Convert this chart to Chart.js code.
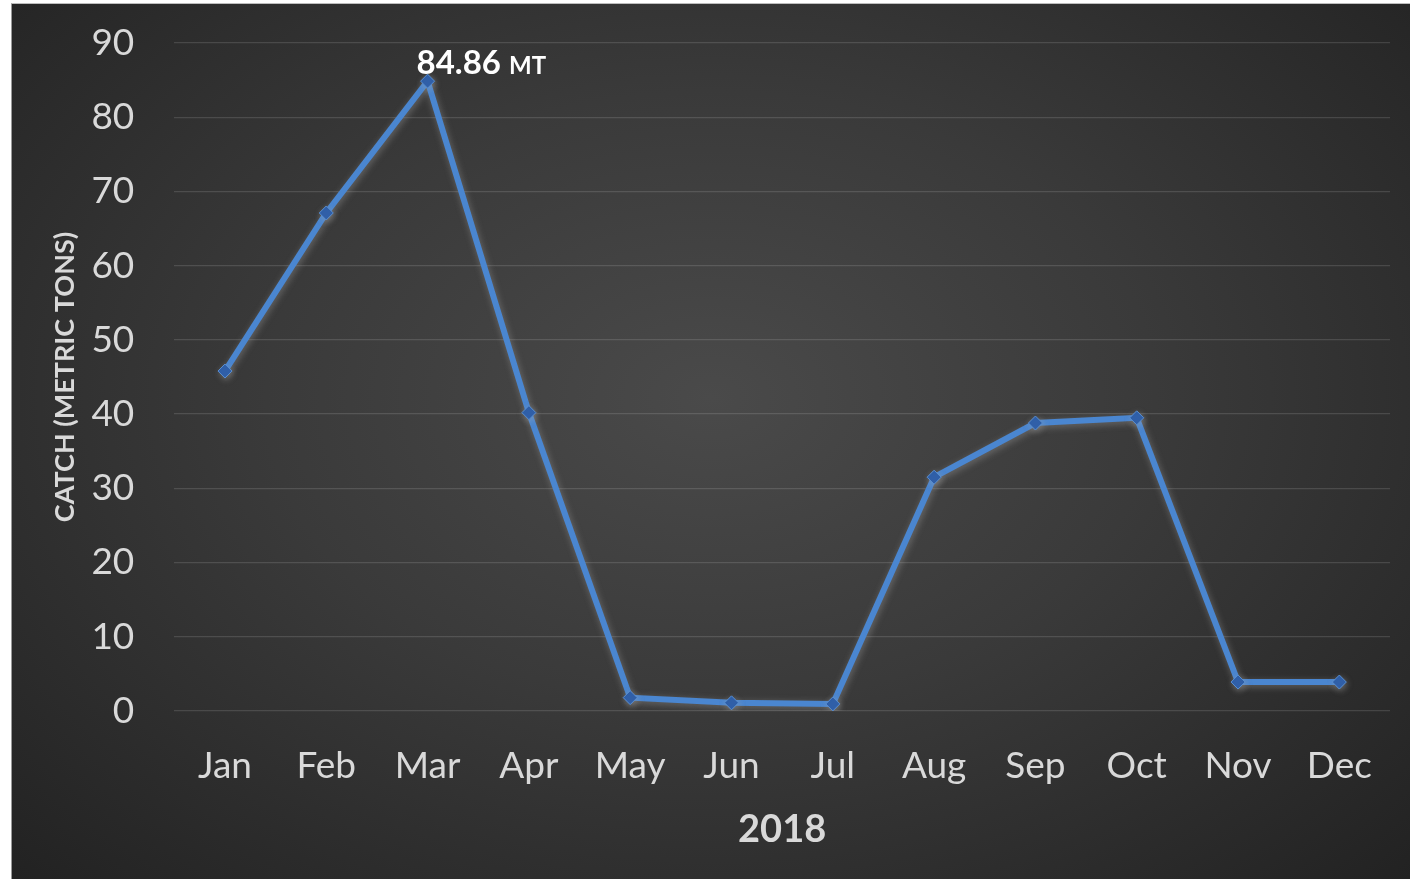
<!DOCTYPE html>
<html>
<head>
<meta charset="utf-8">
<script src="https://cdn.jsdelivr.net/npm/chart.js@4.4.1/dist/chart.umd.min.js"></script>
<style>
  html, body { margin: 0; padding: 0; background: #fff; }
  #box {
    position: absolute; left: 11px; top: 3px; width: 1399px; height: 876px;
    background: radial-gradient(ellipse at 50% 45%, #4a4a4a 0%, #3a3a3a 45%, #222222 100%);
    border-left: 1px solid #9a9a9a; border-top: 1px solid #bdbdbd;
    box-sizing: border-box;
  }
  canvas { display: block; }
</style>
</head>
<body>
<div id="box"><canvas id="catchChart" width="1398" height="875"></canvas></div>
<script>
const months = ['Jan', 'Feb', 'Mar', 'Apr', 'May', 'Jun', 'Jul', 'Aug', 'Sep', 'Oct', 'Nov', 'Dec'];
const catchTons = [45.8, 67.1, 84.86, 40.2, 1.8, 1.1, 0.95, 31.5, 38.8, 39.5, 3.9, 3.9];
const yTicks = [0, 10, 20, 30, 40, 50, 60, 70, 80, 90];
const peakLabel = '84.86';
const peakUnit = 'MT';

// soft light halo behind the line like the office chart
const glow = {
  id: 'glow',
  beforeDatasetDraw(chart) {
    const c = chart.ctx;
    c.save();
    c.shadowColor = 'rgba(170,170,170,0.45)';
    c.shadowBlur = 7;
    c.shadowOffsetX = 1;
    c.shadowOffsetY = 2;
  },
  afterDatasetDraw(chart) {
    chart.ctx.restore();
  }
};

// "84.86 MT" label over the March peak
const peakText = {
  id: 'peakText',
  afterDatasetsDraw(chart) {
    const c = chart.ctx;
    const i = catchTons.indexOf(84.86);
    const pt = chart.getDatasetMeta(0).data[i];
    c.save();
    c.fillStyle = '#ffffff';
    c.textBaseline = 'alphabetic';
    c.textAlign = 'left';
    c.font = 'bold 33px Lato';
    const w1 = c.measureText(peakLabel + ' ').width;
    const x = pt.x - 11;
    const y = pt.y - 7;
    c.fillText(peakLabel, x, y);
    c.font = 'bold 24px Lato';
    c.fillText(peakUnit, x + w1, y);
    c.restore();
  }
};

new Chart(document.getElementById('catchChart'), {
  type: 'line',
  data: {
    labels: months,
    datasets: [{
      data: catchTons,
      borderColor: '#4a86d0',
      borderWidth: 6,
      pointStyle: 'rectRot',
      pointRadius: 7,
      pointBackgroundColor: '#2a5ca8',
      pointBorderColor: '#5a8fd0',
      pointBorderWidth: 1,
      tension: 0
    }]
  },
  options: {
    responsive: false,
    animation: false,
    devicePixelRatio: 1,
    layout: { padding: { top: 39, right: 20, bottom: 26, left: 37 } },
    plugins: {
      legend: { display: false },
      tooltip: { enabled: false }
    },
    scales: {
      x: {
        offset: true,
        grid: { display: false, drawTicks: false },
        border: { display: false },
        ticks: { color: '#d9d9d9', font: { family: 'Lato', size: 37 }, padding: 33, maxRotation: 0 },
        title: { display: true, text: '2018', color: '#d9d9d9', font: { family: 'Lato', size: 38, weight: 'bold' }, padding: { top: -14, bottom: 0 } }
      },
      y: {
        min: 0,
        max: 90,
        afterBuildTicks(axis) { axis.ticks = yTicks.map(v => ({ value: v })); },
        afterFit(axis) { axis.paddingTop = 0; axis.paddingBottom = 0; },
        grid: { color: 'rgba(255,255,255,0.13)', lineWidth: 1.3, drawTicks: false },
        border: { display: false },
        ticks: { color: '#d9d9d9', font: { family: 'Lato', size: 37 }, padding: 40 },
        title: { display: true, text: 'CATCH (METRIC TONS)', color: '#d9d9d9', font: { family: 'Lato', size: 27, weight: 'bold' }, padding: { top: 0, bottom: -30 } }
      }
    }
  },
  plugins: [glow, peakText]
});
</script>
</body>
</html>
